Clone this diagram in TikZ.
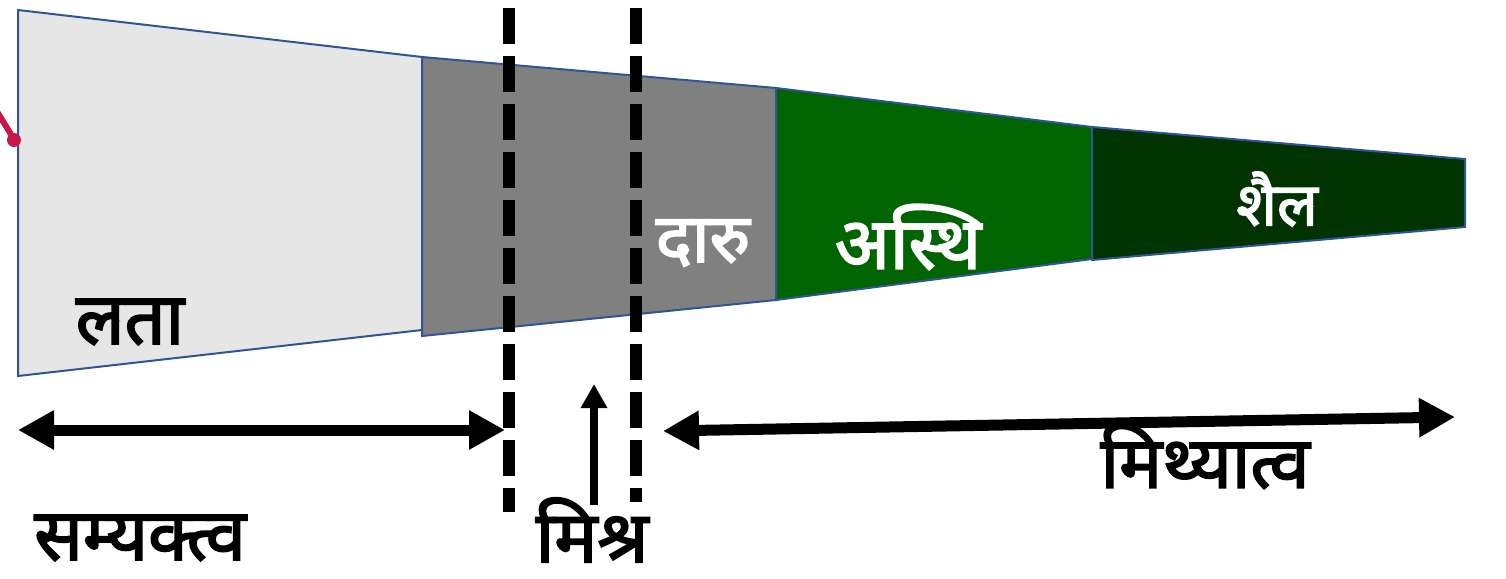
\documentclass[tikz,border=0pt]{standalone}
\usepackage{fontspec}
\newfontfamily\deva[Script=Devanagari, FakeBold=2.5]{Noto Sans}
\usetikzlibrary{arrows.meta}
\definecolor{edgeblue}{HTML}{2F5597}
\definecolor{lightseg}{HTML}{E6E6E6}
\definecolor{midseg}{HTML}{808080}
\definecolor{greenseg}{HTML}{006400}
\definecolor{darkseg}{HTML}{003300}
\definecolor{pinkarrow}{HTML}{C8174A}
\tikzset{
  seg/.style={draw=edgeblue, line width=2pt, line join=miter},
  divider/.style={line width=12pt, dash pattern=on 36pt off 12pt},
  bigarrow/.style={line width=11pt, {Triangle[length=36pt,width=37pt]}-{Triangle[length=36pt,width=37pt]}},
  uparrow/.style={line width=8pt, -{Triangle[length=24pt,width=25pt]}},
  lbl/.style={font=\deva\fontsize{72}{80}\selectfont, inner sep=0pt},
  wlbl/.style={lbl, text=white},
}
\begin{document}
\begin{tikzpicture}[x=1pt,y=-1pt]
\useasboundingbox (0,0) rectangle (1506,578);
% segments
\draw[seg, fill=lightseg] (18,10) -- (422,57) -- (422,330) -- (18,376) -- cycle;
\draw[seg, fill=midseg] (422,57) -- (776,88) -- (776,300) -- (422,336) -- cycle;
\draw[seg, fill=greenseg] (776,88) -- (1092,127) -- (1092,259) -- (776,300) -- cycle;
\draw[seg, fill=darkseg] (1092,127) -- (1465,159) -- (1465,227) -- (1092,260) -- cycle;
% pink arrow stub
\draw[pinkarrow, line width=6pt, line cap=round] (-4,110) -- (12,136);
\fill[pinkarrow] (14,140) circle (7pt);
% segment labels
\node[lbl] (lata) at (130,322) {लता};
\node[wlbl, font=\deva\fontsize{68}{76}\selectfont] (daru) at (703,243) {दारु};
\node[wlbl] (asthi) at (908,237) {अस्थि};
\node[wlbl, font=\deva\fontsize{60}{68}\selectfont] (shail) at (1277,199) {शैल};
% dashed dividers
\coordinate (d1top) at (509,8);
\coordinate (d1bot) at (509,512);
\coordinate (d2top) at (636,8);
\coordinate (d2bot) at (636,502);
\draw[divider] (d1top) -- (d1bot);
\draw[divider] (d2top) -- (d2bot);
% arrows
\coordinate (sL) at (18,430);
\coordinate (sR) at (505,430);
\draw[bigarrow] (sL) -- (sR);
\coordinate (mL) at (663,431);
\coordinate (mR) at (1455,417);
\draw[bigarrow] (mL) -- (mR);
\coordinate (uB) at (594,505);
\coordinate (uT) at (594,384);
\draw[uparrow] (uB) -- (uT);
% bottom labels
\node[lbl] (samyaktva) at (140,538) {सम्यक्त्व};
\node[lbl] (mishra) at (592,530) {मिश्र};
\node[lbl] (mithyatva) at (1205,456) {मिथ्यात्व};
\end{tikzpicture}
\end{document}
